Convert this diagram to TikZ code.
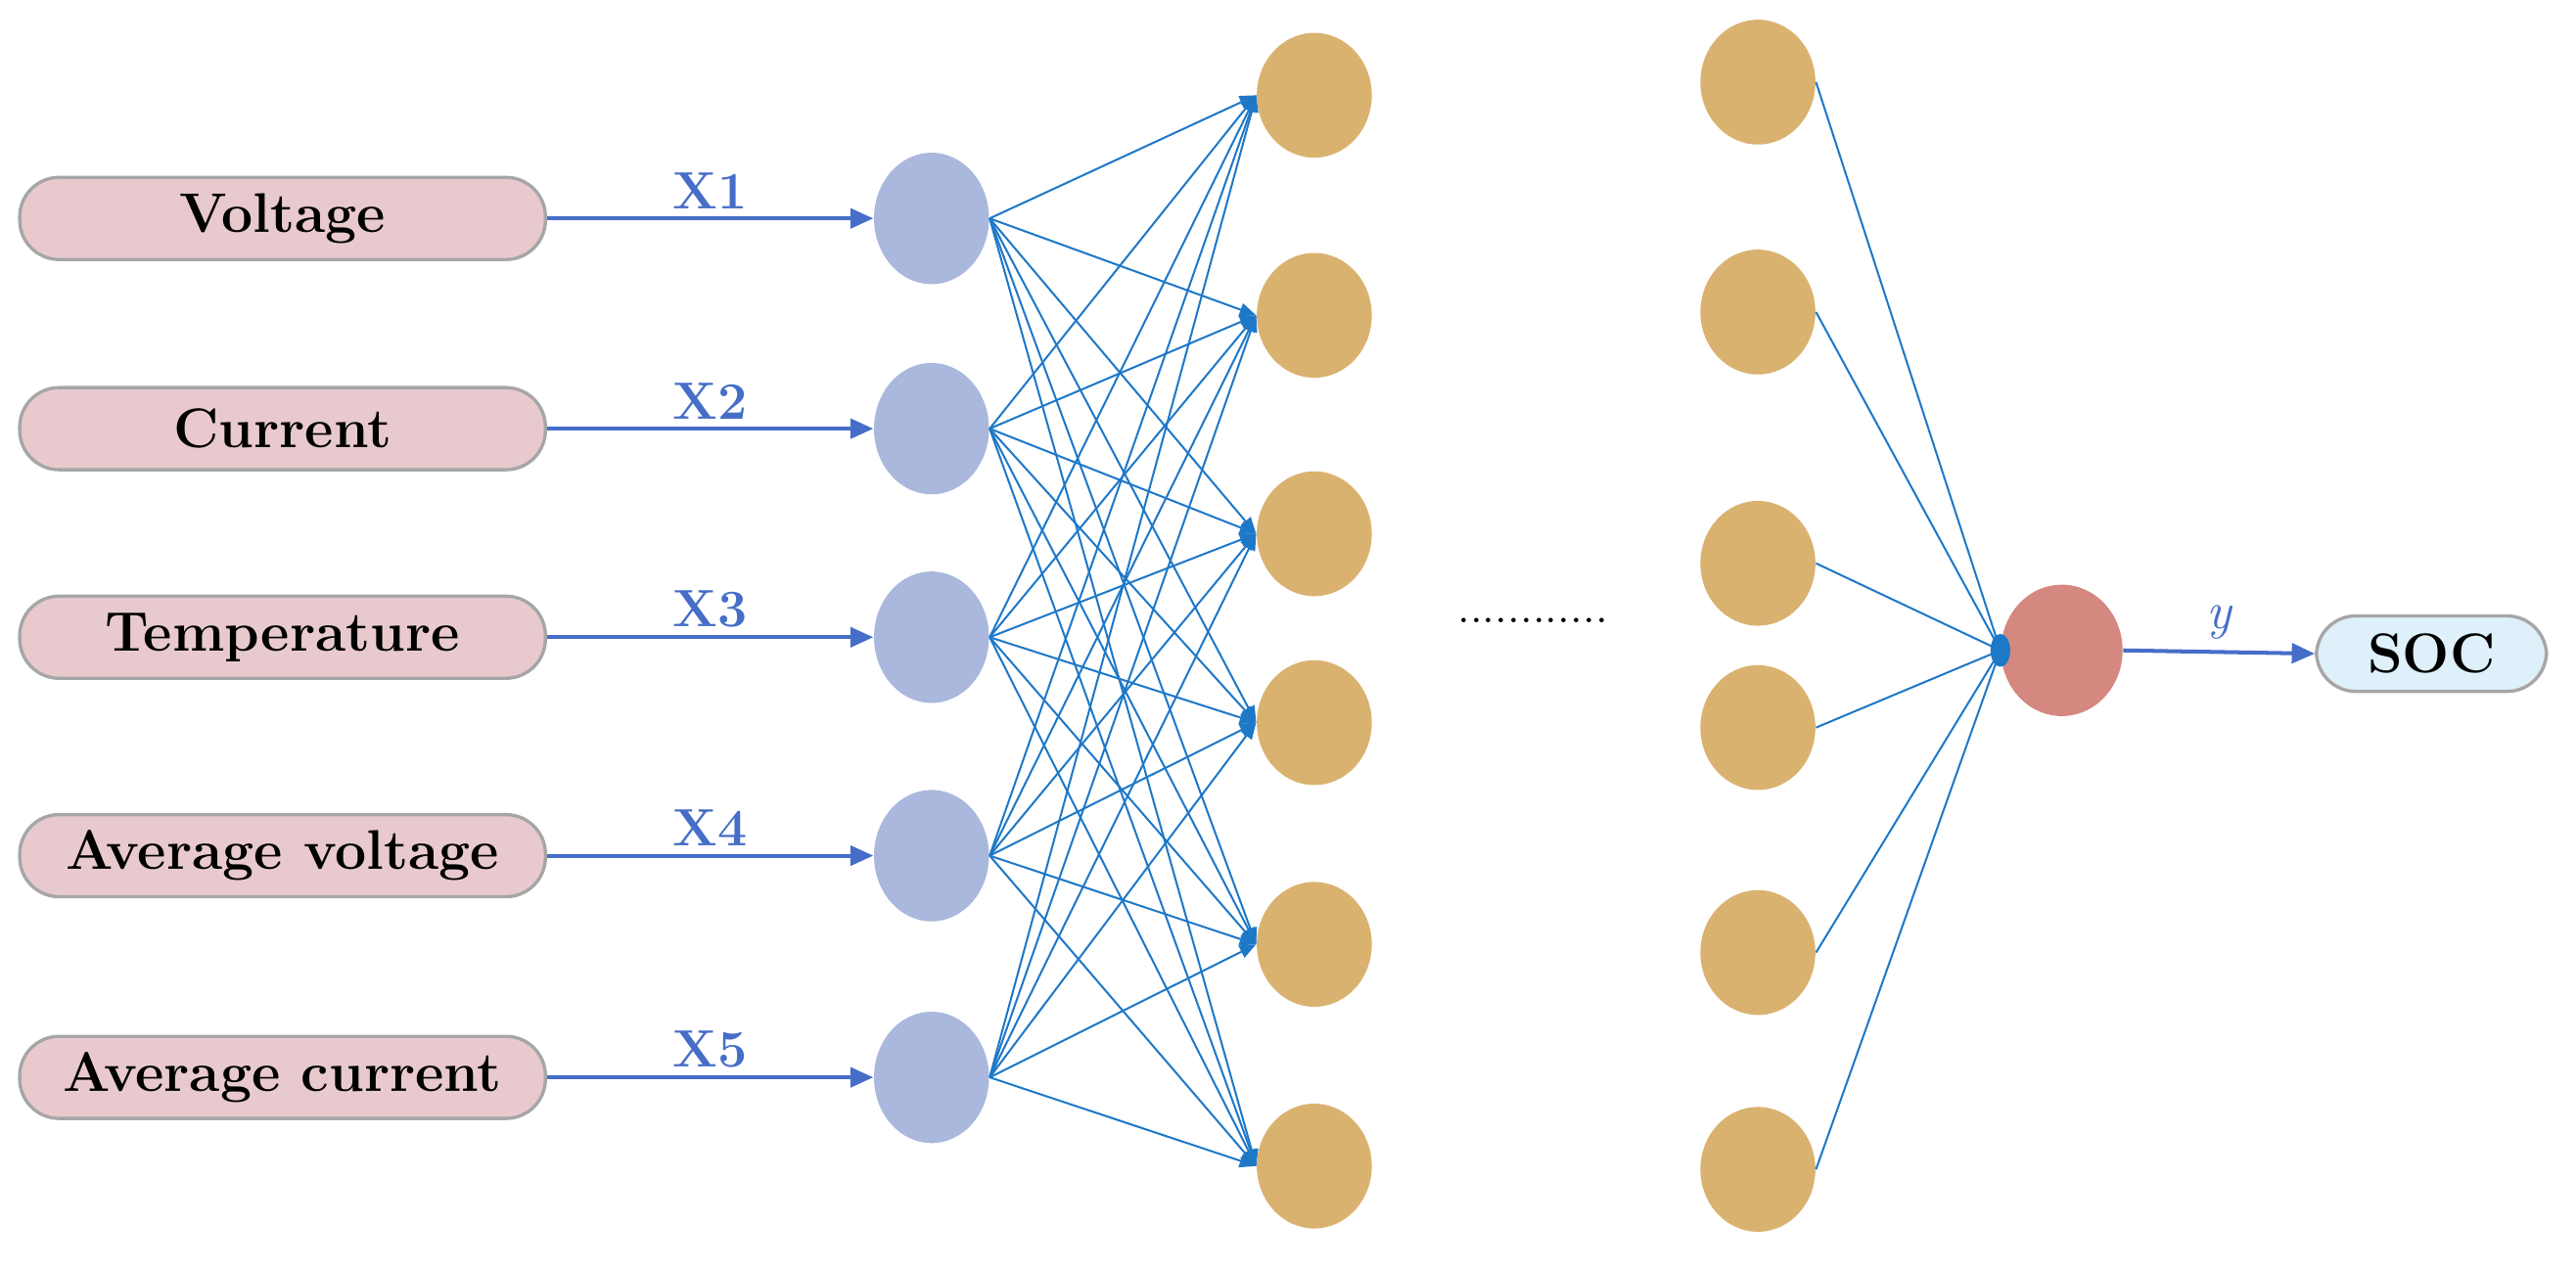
\documentclass[tikz,border=0pt]{standalone}
\usetikzlibrary{arrows.meta,shapes.geometric}
\definecolor{boxpink}{RGB}{232,202,206}
\definecolor{inblue}{RGB}{169,184,220}
\definecolor{hidgold}{RGB}{218,178,112}
\definecolor{outred}{RGB}{212,136,128}
\definecolor{linkblue}{RGB}{30,120,200}
\definecolor{arrblue}{RGB}{70,110,200}
\definecolor{socblue}{RGB}{222,240,250}
\begin{document}
\begin{tikzpicture}[x=0.5pt,y=-0.5pt,
  inbox/.style={draw=gray!70,line width=1pt,fill=boxpink,rounded corners=12pt,minimum width=160pt,minimum height=25pt,font=\fontsize{17}{17}\selectfont\bfseries,inner sep=0pt},
  innode/.style={ellipse,fill=inblue,minimum width=35pt,minimum height=40pt,inner sep=0pt},
  hnode/.style={ellipse,fill=hidgold,minimum width=35pt,minimum height=38pt,inner sep=0pt},
  onode/.style={ellipse,fill=outred,minimum width=37pt,minimum height=40pt,inner sep=0pt},
  conn/.style={draw=linkblue,line width=0.6pt,-{Triangle[length=5pt,width=4pt]}},
  conn2/.style={draw=linkblue,line width=0.6pt},
  inarr/.style={draw=arrblue,line width=1.2pt,-{Triangle[length=7pt,width=6pt]}},
  xlab/.style={text=arrblue,font=\fontsize{16}{16}\selectfont\bfseries}]
\useasboundingbox (0,0) rectangle (1568,772);
\foreach \n/\t/\y in {1/Voltage/133,2/Current/261,3/Temperature/388,4/Average voltage/521,5/Average current/656}{
  \node[inbox] (b\n) at (172,\y) {\t};
  \node[innode] (i\n) at (567,\y) {};
  \draw[inarr] (b\n.east) -- (i\n.west) node[midway,above,xlab,yshift=-1pt] {X\n};
}
\foreach \n/\y in {1/58,2/192,3/325,4/440,5/575,6/710}{
  \node[hnode] (h\n) at (800,\y) {};
}
\foreach \n/\y in {1/50,2/190,3/343,4/443,5/580,6/712}{
  \node[hnode] (g\n) at (1070,\y) {};
}
\node[onode] (o) at (1255,396) {};
\node[draw=gray!70,line width=1pt,fill=socblue,rounded corners=12pt,minimum width=70pt,minimum height=23pt,font=\fontsize{17}{17}\selectfont\bfseries,inner sep=0pt] (soc) at (1480,398) {SOC};
\foreach \a in {1,...,5}{\foreach \b in {1,...,6}{
  \draw[conn] (i\a.east) -- (h\b.west);
}}
\foreach \b in {1,...,6}{
  \draw[conn2] (g\b.east) -- (o.west);
}
\fill[linkblue] (o.west) ellipse (3pt and 5pt);
\draw[inarr] (o.east) -- (soc.west) node[midway,above,text=arrblue,font=\fontsize{16}{16}\selectfont\itshape] {y};
\node[font=\fontsize{14}{14}\selectfont] (dots) at (933,378) {............};
\end{tikzpicture}
\end{document}
